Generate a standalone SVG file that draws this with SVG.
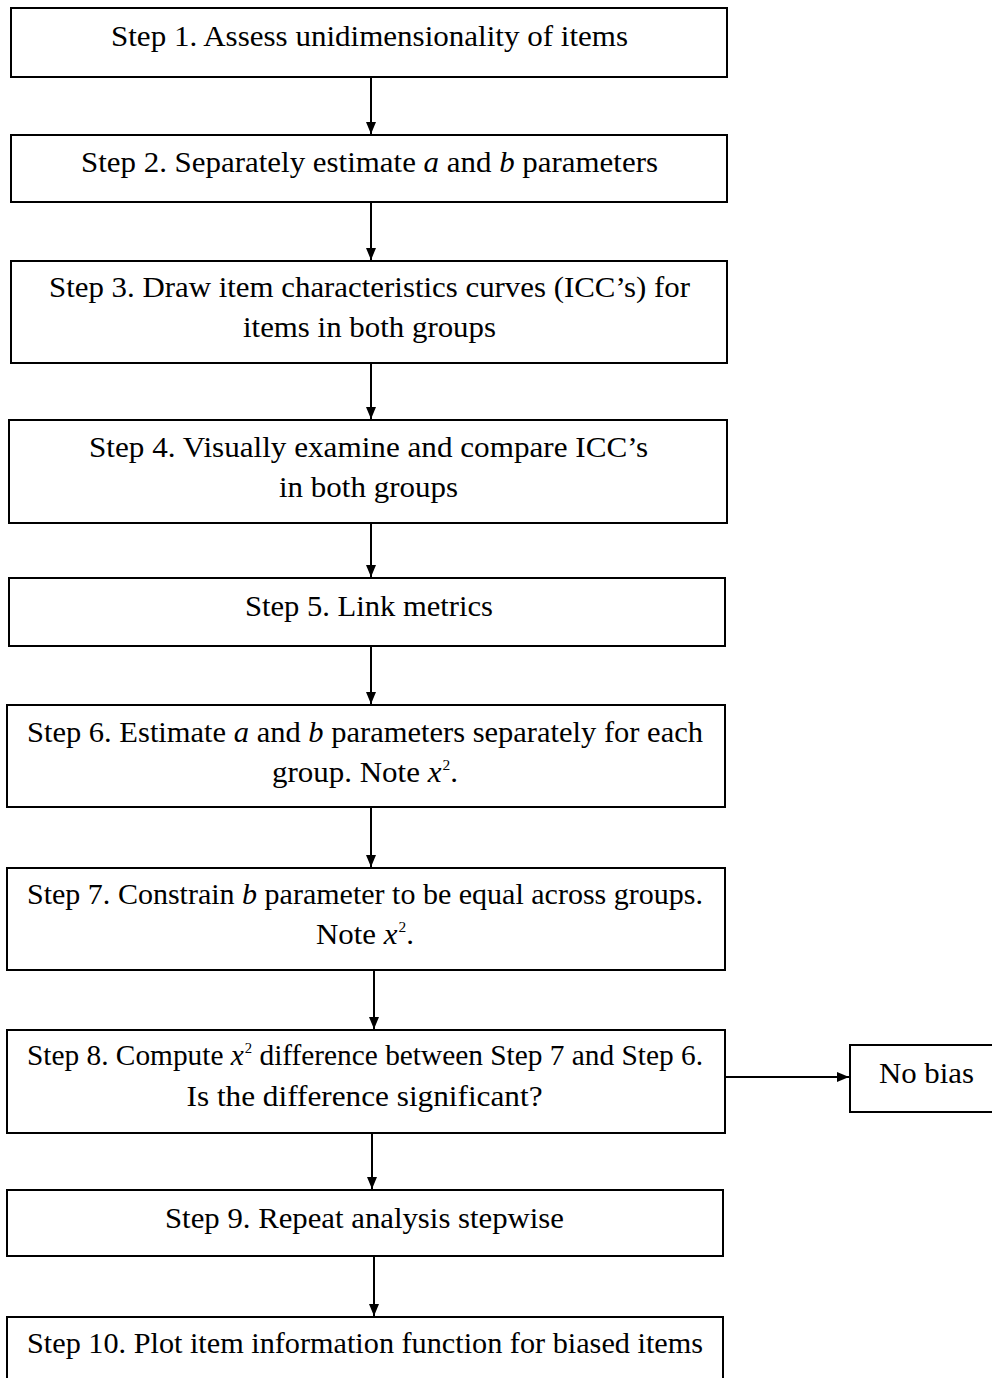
<svg xmlns="http://www.w3.org/2000/svg" width="992" height="1378" viewBox="0 0 992 1378">
<defs>
<style>
.box{fill:#fff;stroke:#000;stroke-width:2}
.t{font-family:"Liberation Serif","Times New Roman",serif;font-size:30px;fill:#000;text-anchor:middle}
.i{font-style:italic}
.s{font-size:15px}
.c{stroke:#000;stroke-width:2;fill:none;marker-end:url(#ah)}
</style>
<marker id="ah" markerWidth="14" markerHeight="12" refX="12" refY="5" orient="auto" markerUnits="userSpaceOnUse">
<path d="M0,0 L12,5 L0,10 Z" fill="#000"/>
</marker>
</defs>
<rect width="992" height="1378" fill="#fff"/>
<g id="connectors">
<line class="c" x1="371" y1="77" x2="371" y2="134"/>
<line class="c" x1="371" y1="202" x2="371" y2="260"/>
<line class="c" x1="371" y1="363" x2="371" y2="419"/>
<line class="c" x1="371" y1="523" x2="371" y2="577"/>
<line class="c" x1="371" y1="646" x2="371" y2="704"/>
<line class="c" x1="371" y1="807" x2="371" y2="867"/>
<line class="c" x1="374" y1="970" x2="374" y2="1029"/>
<line class="c" x1="725" y1="1077" x2="849" y2="1077"/>
<line class="c" x1="372" y1="1133" x2="372" y2="1189"/>
<line class="c" x1="374" y1="1256" x2="374" y2="1316"/>
</g>
<g id="step1"><rect class="box" x="11" y="8" width="716" height="69"/>
<text class="t" x="369.5" y="46" textLength="517" lengthAdjust="spacingAndGlyphs">Step 1. Assess unidimensionality of items</text></g>
<g id="step2"><rect class="box" x="11" y="135" width="716" height="67"/>
<text class="t" x="369.5" y="172" textLength="577" lengthAdjust="spacingAndGlyphs">Step 2. Separately estimate <tspan class="i">a</tspan> and <tspan class="i">b</tspan> parameters</text></g>
<g id="step3"><rect class="box" x="11" y="261" width="716" height="102"/>
<text class="t" x="369.5" y="297" textLength="641" lengthAdjust="spacingAndGlyphs">Step 3. Draw item characteristics curves (ICC’s) for</text>
<text class="t" x="369.5" y="337" textLength="253" lengthAdjust="spacingAndGlyphs">items in both groups</text></g>
<g id="step4"><rect class="box" x="9" y="420" width="718" height="103"/>
<text class="t" x="368.5" y="457" textLength="559" lengthAdjust="spacingAndGlyphs">Step 4. Visually examine and compare ICC’s</text>
<text class="t" x="368.5" y="497" textLength="179" lengthAdjust="spacingAndGlyphs">in both groups</text></g>
<g id="step5"><rect class="box" x="9" y="578" width="716" height="68"/>
<text class="t" x="369" y="616" textLength="248" lengthAdjust="spacingAndGlyphs">Step 5. Link metrics</text></g>
<g id="step6"><rect class="box" x="7" y="705" width="718" height="102"/>
<text class="t" x="365" y="742" textLength="676" lengthAdjust="spacingAndGlyphs">Step 6. Estimate <tspan class="i">a</tspan> and <tspan class="i">b</tspan> parameters separately for each</text>
<text class="t" x="365" y="782" textLength="186" lengthAdjust="spacingAndGlyphs">group. Note <tspan class="i">x</tspan><tspan class="s" dx="1" dy="-12">2</tspan><tspan dy="12">.</tspan></text></g>
<g id="step7"><rect class="box" x="7" y="868" width="718" height="102"/>
<text class="t" x="365" y="904" textLength="676" lengthAdjust="spacingAndGlyphs">Step 7. Constrain <tspan class="i">b</tspan> parameter to be equal across groups.</text>
<text class="t" x="365" y="944" textLength="98" lengthAdjust="spacingAndGlyphs">Note <tspan class="i">x</tspan><tspan class="s" dx="1" dy="-12">2</tspan><tspan dy="12">.</tspan></text></g>
<g id="step8"><rect class="box" x="7" y="1030" width="718" height="103"/>
<text class="t" x="365" y="1065" textLength="676" lengthAdjust="spacingAndGlyphs">Step 8. Compute <tspan class="i">x</tspan><tspan class="s" dx="1" dy="-12">2</tspan><tspan dy="12"> difference between Step 7 and Step 6.</tspan></text>
<text class="t" x="364.5" y="1106" textLength="356" lengthAdjust="spacingAndGlyphs">Is the difference significant?</text></g>
<g id="nobias"><rect class="box" x="850" y="1045" width="150" height="67"/>
<text class="t" x="926.5" y="1083" textLength="95" lengthAdjust="spacingAndGlyphs">No bias</text></g>
<g id="step9"><rect class="box" x="7" y="1190" width="716" height="66"/>
<text class="t" x="364.5" y="1228" textLength="399" lengthAdjust="spacingAndGlyphs">Step 9. Repeat analysis stepwise</text></g>
<g id="step10"><rect class="box" x="7" y="1317" width="716" height="70"/>
<text class="t" x="365" y="1353" textLength="676" lengthAdjust="spacingAndGlyphs">Step 10. Plot item information function for biased items</text></g>
</svg>
